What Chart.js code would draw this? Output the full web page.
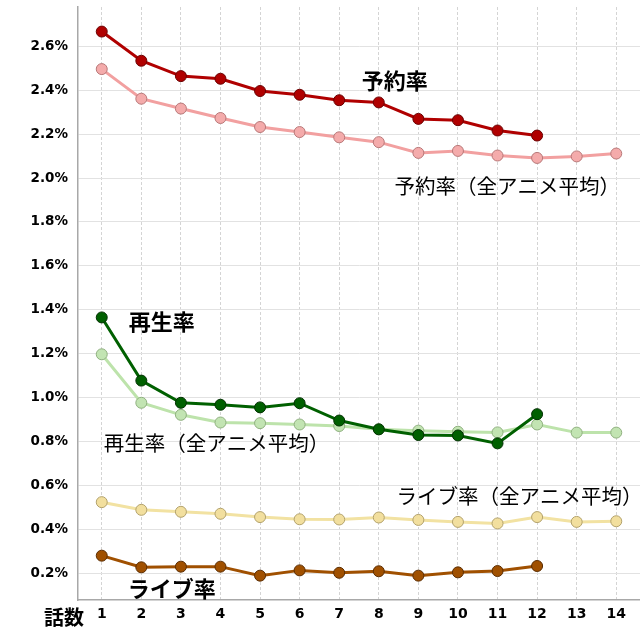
<!DOCTYPE html>
<html>
<head>
<meta charset="utf-8">
<script src="https://cdn.jsdelivr.net/npm/chart.js@4"></script>
<style>
  html, body { margin: 0; padding: 0; background: #fff; overflow: hidden; }
  canvas { display: block; }
</style>
</head>
<body>
<canvas id="rateChart" width="640" height="640"></canvas>
<script>
// episodes (話数)
const episodes = [1, 2, 3, 4, 5, 6, 7, 8, 9, 10, 11, 12, 13, 14];
const yTicks = [0.2, 0.4, 0.6, 0.8, 1.0, 1.2, 1.4, 1.6, 1.8, 2.0, 2.2, 2.4, 2.6];

// rates in %
const reserveRate = [2.668, 2.535, 2.465, 2.453, 2.397, 2.380, 2.355, 2.345, 2.270, 2.264, 2.217, 2.194];
const reserveAvg = [2.497, 2.362, 2.317, 2.274, 2.233, 2.210, 2.186, 2.164, 2.115, 2.124, 2.103, 2.092, 2.099, 2.112];
const playRate = [1.365, 1.077, 0.976, 0.967, 0.955, 0.974, 0.895, 0.855, 0.829, 0.827, 0.791, 0.924];
const playAvg = [1.197, 0.976, 0.921, 0.886, 0.883, 0.877, 0.870, 0.855, 0.849, 0.844, 0.841, 0.877, 0.840, 0.840];
const liveRate = [0.279, 0.226, 0.229, 0.229, 0.188, 0.212, 0.201, 0.208, 0.188, 0.203, 0.209, 0.232];
const liveAvg = [0.523, 0.488, 0.479, 0.470, 0.455, 0.445, 0.444, 0.453, 0.442, 0.433, 0.426, 0.455, 0.433, 0.436];

// series labels written on the plot, placed in data units
const seriesLabels = [
  { text: '予約率', x: 7.57, y: 2.445, bold: true },
  { text: '予約率（全アニメ平均）', x: 8.4, y: 1.964, bold: false },
  { text: '再生率', x: 1.68, y: 1.345, bold: true },
  { text: '再生率（全アニメ平均）', x: 1.05, y: 0.791, bold: false },
  { text: 'ライブ率（全アニメ平均）', x: 8.45, y: 0.55, bold: false },
  { text: 'ライブ率', x: 1.66, y: 0.127, bold: true }
];

function toPoints(values) {
  return values.map((v, i) => ({ x: episodes[i], y: v }));
}

function series(values, line, fill, border, order) {
  return {
    data: toPoints(values),
    borderColor: line,
    borderWidth: 3,
    pointBackgroundColor: fill,
    pointBorderColor: border,
    pointBorderWidth: 1,
    pointRadius: 5.5,
    tension: 0,
    order: order
  };
}

function noPadding(axis) {
  axis.paddingLeft = 0;
  axis.paddingRight = 0;
  axis.paddingTop = 0;
  axis.paddingBottom = 0;
}

const labelPlugin = {
  id: 'seriesLabels',
  afterDatasetsDraw(chart) {
    const ctx = chart.ctx;
    const xs = chart.scales.x, ys = chart.scales.y;
    ctx.save();
    ctx.fillStyle = '#000';
    ctx.textBaseline = 'middle';
    ctx.textAlign = 'left';
    seriesLabels.forEach(l => {
      ctx.font = (l.bold ? 'bold 22px' : '20.5px') + ' "Noto Sans CJK JP", sans-serif';
      ctx.fillText(l.text, xs.getPixelForValue(l.x), ys.getPixelForValue(l.y));
    });
    // axis caption 話数
    ctx.font = 'bold 20px "Noto Sans CJK JP", sans-serif';
    ctx.fillText('話数', 44, chart.chartArea.bottom + 17);
    ctx.restore();
  }
};

const ctx = document.getElementById('rateChart');
new Chart(ctx.getContext('2d'), {
  type: 'line',
  data: {
    datasets: [
      series(reserveAvg, '#f2a0a0', '#f4abab', '#b87878', 1),
      series(playAvg, '#bde3ab', '#c2e4b2', '#8fb07f', 1),
      series(liveAvg, '#f2e2a2', '#f2df9e', '#b3a26c', 1),
      series(reserveRate, '#b00000', '#b00000', '#6a0000', 0),
      series(playRate, '#006000', '#006000', '#003000', 0),
      series(liveRate, '#a05000', '#a05000', '#5a2c00', 0)
    ]
  },
  options: {
    responsive: false,
    animation: false,
    layout: { autoPadding: false, padding: { top: 7, right: 0, left: 0, bottom: 0 } },
    plugins: {
      legend: { display: false },
      tooltip: { enabled: false }
    },
    scales: {
      x: {
        type: 'linear',
        min: 0.4,
        max: 14.6,
        afterBuildTicks: axis => { axis.ticks = episodes.map(v => ({ value: v })); },
        afterFit: axis => { axis.height = 40; noPadding(axis); },
        grid: { color: '#d4d4d4', drawTicks: false },
        border: { color: '#a8a8a8', width: 1.5, dash: [3, 2] },
        ticks: {
          padding: 6,
          color: '#000',
          font: { family: '"DejaVu Sans", Verdana, sans-serif', size: 14, weight: 'bold' }
        }
      },
      y: {
        min: 0.077,
        max: 2.78,
        afterBuildTicks: axis => { axis.ticks = yTicks.map(v => ({ value: v })); },
        afterFit: axis => { axis.width = 78; noPadding(axis); },
        grid: { color: '#e2e2e2', drawTicks: false },
        border: { color: '#a8a8a8', width: 1.5 },
        ticks: {
          padding: 10,
          color: '#000',
          font: { family: '"DejaVu Sans", Verdana, sans-serif', size: 13.5, weight: 'bold' },
          callback: v => v.toFixed(1) + '%'
        }
      }
    }
  },
  plugins: [labelPlugin]
});
</script>
</body>
</html>
